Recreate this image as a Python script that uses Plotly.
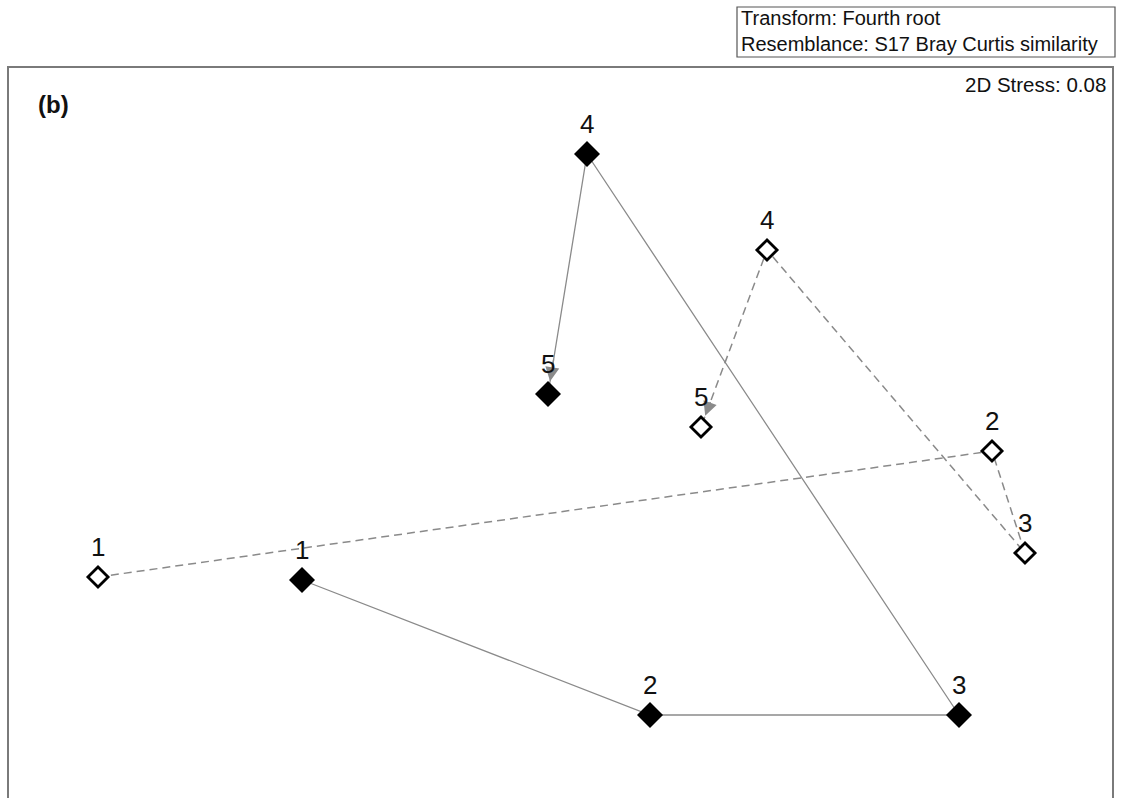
import plotly.graph_objects as go

# nMDS ordination coordinates for the two groups, sampling times 1-5
times = ["1", "2", "3", "4", "5"]
filled_x = [-0.86, 0.30, 1.33, 0.09, -0.04]
filled_y = [-0.60, -1.05, -1.05, 0.82, 0.02]
open_x = [-1.54, 1.44, 1.55, 0.69, 0.47]
open_y = [-0.59, -0.17, -0.51, 0.50, -0.09]

header_lines = ["Transform: Fourth root", "Resemblance: S17 Bray Curtis similarity"]
stress_label = "2D Stress: 0.08"
panel_label = "(b)"

W, H = 1125, 798
FONT = "Liberation Sans, Arial, sans-serif"
LINE_GREY = "#8a8a8a"

fig = go.Figure()

# trajectories (drawn first so markers sit on top)
fig.add_trace(go.Scatter(x=open_x, y=open_y, mode="lines",
                         line=dict(color=LINE_GREY, width=1.5, dash="8px,5px"),
                         hoverinfo="skip", showlegend=False))
fig.add_trace(go.Scatter(x=filled_x, y=filled_y, mode="lines",
                         line=dict(color=LINE_GREY, width=1.3),
                         hoverinfo="skip", showlegend=False))

# markers
fig.add_trace(go.Scatter(x=open_x, y=open_y, mode="markers",
                         marker=dict(symbol="diamond", size=15.5, color="white",
                                     line=dict(color="black", width=2.8)),
                         showlegend=False))
fig.add_trace(go.Scatter(x=filled_x, y=filled_y, mode="markers",
                         marker=dict(symbol="diamond", size=20, color="black",
                                     line=dict(width=0)),
                         showlegend=False))

annotations = []

# arrowheads on the final step (4 -> 5)
for xs, ys, sd in ((filled_x, filled_y, 13), (open_x, open_y, 12)):
    tx = xs[4] + 0.15 * (xs[3] - xs[4])
    ty = ys[4] + 0.15 * (ys[3] - ys[4])
    annotations.append(dict(x=xs[4], y=ys[4], ax=tx, ay=ty, xref="x", yref="y",
                            axref="x", ayref="y", showarrow=True, arrowhead=2,
                            arrowsize=2, arrowwidth=1.4, arrowcolor=LINE_GREY,
                            standoff=sd, text=""))

# time labels above each point
for xs, ys in ((filled_x, filled_y), (open_x, open_y)):
    for t, x, y in zip(times, xs, ys):
        annotations.append(dict(x=x, y=y, text=t, showarrow=False, yshift=30,
                                font=dict(family=FONT, size=26, color="#111")))

# header box text
annotations.append(dict(x=739 / W, y=1 - 5 / H, xref="paper", yref="paper",
                        xanchor="left", yanchor="top", align="left",
                        text="<br>".join(header_lines), showarrow=False,
                        font=dict(family=FONT, size=20, color="#111")))
annotations.append(dict(x=1108 / W, y=1 - 84 / H, xref="paper", yref="paper",
                        xanchor="right", yanchor="middle", text=stress_label,
                        showarrow=False, font=dict(family=FONT, size=20.5, color="#111")))
annotations.append(dict(x=36 / W, y=1 - 104 / H, xref="paper", yref="paper",
                        xanchor="left", yanchor="middle", text="<b>" + panel_label + "</b>",
                        showarrow=False, font=dict(family=FONT, size=24, color="#111")))

shapes = [
    # plot frame (bottom edge lies below the visible page)
    dict(type="rect", xref="paper", yref="paper", x0=8 / W, x1=1113 / W,
         y0=-0.05, y1=1 - 67 / H, line=dict(color="#7a7a7a", width=2)),
    # header box
    dict(type="rect", xref="paper", yref="paper", x0=737 / W, x1=1115 / W,
         y0=1 - 57 / H, y1=1 - 7 / H, line=dict(color="#555", width=1.2)),
]

fig.update_layout(
    width=W, height=H,
    margin=dict(l=0, r=0, t=0, b=0),
    paper_bgcolor="white", plot_bgcolor="white",
    xaxis=dict(range=[-560 / 300, (W - 560) / 300], visible=False, domain=[0, 1]),
    yaxis=dict(range=[(400 - H) / 300, 400 / 300], visible=False, domain=[0, 1]),
    annotations=annotations, shapes=shapes,
    showlegend=False,
)

fig.write_html("out.html")
